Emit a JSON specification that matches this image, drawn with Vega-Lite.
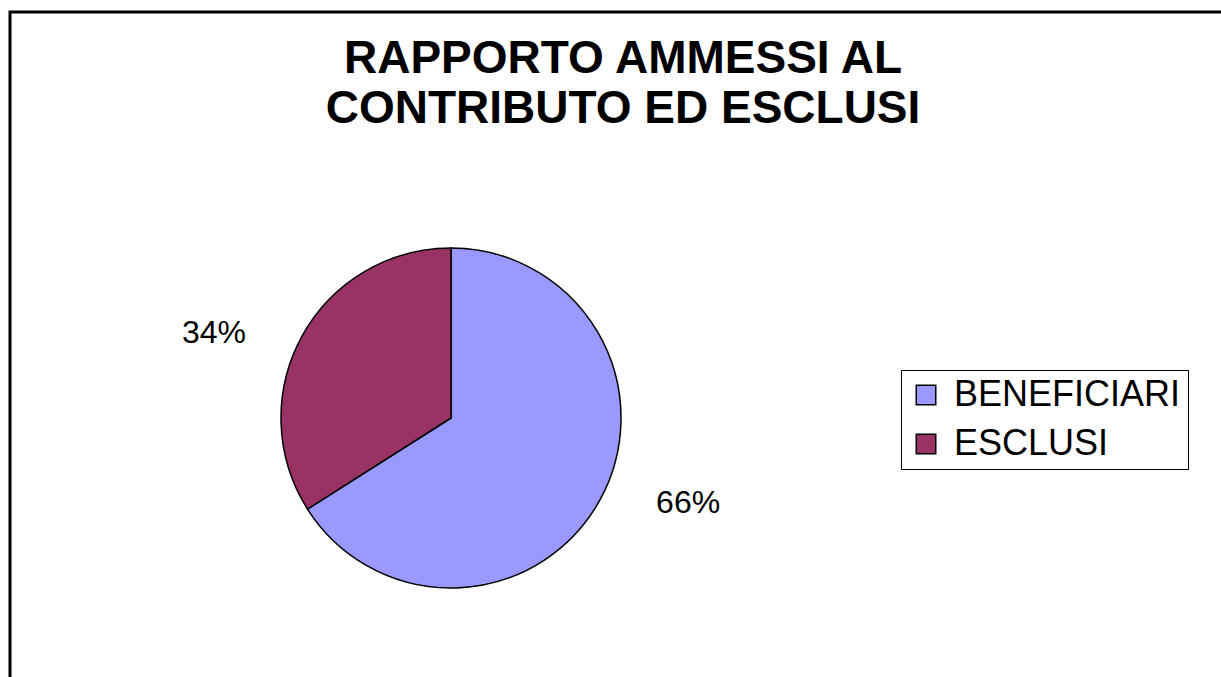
{
  "$schema": "https://vega.github.io/schema/vega-lite/v6.json",
  "width": 1214,
  "height": 668,
  "autosize": {"type": "none"},
  "padding": {"left": 10, "top": 12, "right": -3, "bottom": -3},
  "background": "white",
  "view": {"stroke": "black", "strokeWidth": 3, "fill": "white"},
  "config": {
    "font": "Liberation Sans"
  },
  "title": {
    "text": ["RAPPORTO AMMESSI AL", "CONTRIBUTO ED ESCLUSI"],
    "fontSize": 46,
    "fontWeight": "bold",
    "font": "Liberation Sans",
    "color": "black",
    "anchor": "middle",
    "frame": "group",
    "baseline": "alphabetic",
    "lineHeight": 50,
    "offset": -157,
    "dx": 6
  },
  "data": {
    "values": [
      {"categoria": "BENEFICIARI", "quota": 0.66},
      {"categoria": "ESCLUSI", "quota": 0.34}
    ]
  },
  "encoding": {
    "theta": {"field": "quota", "type": "quantitative", "stack": true},
    "order": {"field": "categoria", "type": "nominal", "sort": "ascending"}
  },
  "layer": [
    {
      "mark": {"type": "arc", "outerRadius": 170, "stroke": "black", "strokeWidth": 1.5, "x": 441, "y": 406},
      "encoding": {
        "color": {
          "field": "categoria",
          "type": "nominal",
          "scale": {"domain": ["BENEFICIARI", "ESCLUSI"], "range": ["#9999FF", "#993366"]},
          "legend": {
            "title": null,
            "orient": "none",
            "legendX": 891,
            "legendY": 358,
            "strokeColor": "black",
            "padding": 7,
            "symbolType": "square",
            "symbolSize": 380,
            "symbolStrokeColor": "black",
            "symbolStrokeWidth": 1.5,
            "symbolOpacity": 1,
            "labelFontSize": 36,
            "labelFont": "Liberation Sans",
            "labelColor": "black",
            "labelOffset": 10,
            "labelLimit": 0,
            "rowPadding": 13
          }
        }
      }
    },
    {
      "mark": {"type": "text", "radius": 252, "thetaOffset": -0.157, "x": 441, "y": 406, "fontSize": 32, "font": "Liberation Sans", "color": "black"},
      "encoding": {
        "text": {"field": "quota", "type": "quantitative", "format": ".0%"},
        "detail": {"field": "categoria", "type": "nominal"}
      }
    }
  ]
}
